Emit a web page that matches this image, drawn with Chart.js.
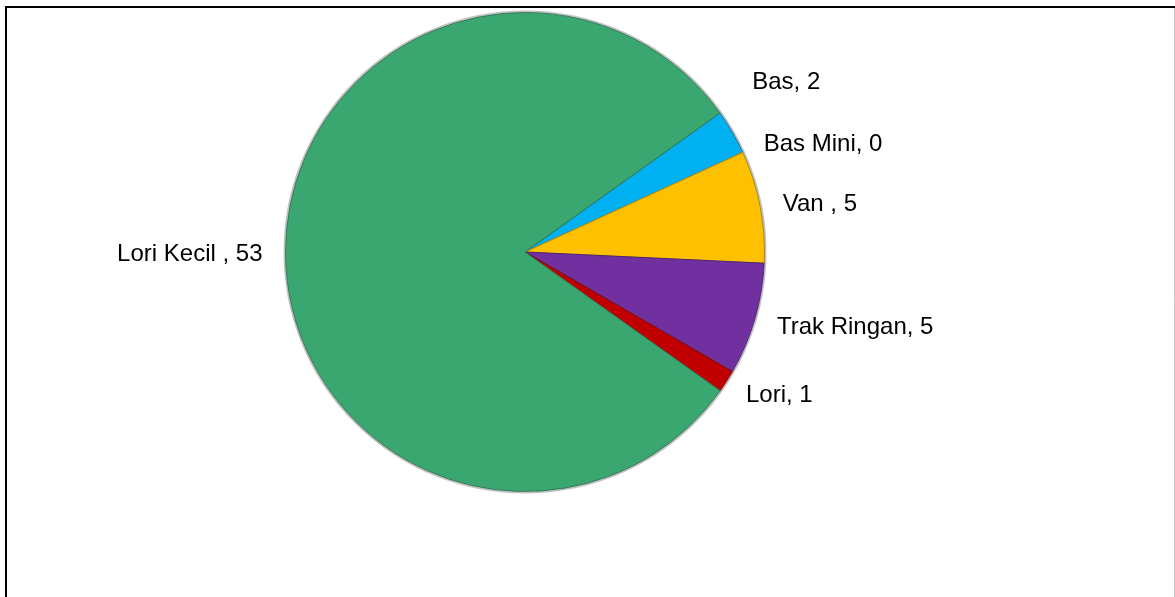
<!DOCTYPE html>
<html>
<head>
<meta charset="utf-8">
<script src="https://cdn.jsdelivr.net/npm/chart.js@4/dist/chart.umd.min.js"></script>
<style>
  html, body { margin: 0; padding: 0; background: #fff; }
  #wrap { width: 1175px; height: 597px; position: relative; }
</style>
</head>
<body>
<div id="wrap"><canvas id="pieChart" width="1175" height="597"></canvas></div>
<script>
// data, in drawing order (clockwise from the Bas slice)
const categories = ['Bas', 'Bas Mini', 'Van ', 'Trak Ringan', 'Lori', 'Lori Kecil '];
const counts = [2, 0, 5, 5, 1, 53];

const fillColors = ['#00B0F0', '#00B0F0', '#FFC000', '#7030A0', '#C00000', '#3AA670'];
const edgeColors = ['#1A6F93', '#1A6F93', '#B08A10', '#4E2474', '#7A0E0E', '#2F7A55'];

// frame around the chart like the spreadsheet export
const framePlugin = {
  id: 'frame',
  beforeDraw(chart) {
    const ctx = chart.ctx;
    ctx.save();
    ctx.fillStyle = '#fff';
    ctx.fillRect(0, 0, chart.width, chart.height);
    ctx.strokeStyle = '#000';
    ctx.lineWidth = 2;
    ctx.beginPath();
    ctx.moveTo(5, 7);
    ctx.lineTo(chart.width, 7);
    ctx.moveTo(6, 6);
    ctx.lineTo(6, chart.height);
    ctx.stroke();
    ctx.strokeStyle = '#c8c8c8';
    ctx.lineWidth = 1;
    ctx.beginPath();
    ctx.moveTo(1174.5, 8);
    ctx.lineTo(1174.5, chart.height);
    ctx.stroke();
    ctx.restore();
  }
};

// soft grey rim + outside labels "name, value"
const pieLabels = {
  id: 'pieLabels',
  afterDatasetsDraw(chart, args, opts) {
    const ctx = chart.ctx;
    const arcs = chart.getDatasetMeta(0).data;
    if (!arcs.length) return;
    const { x: cx, y: cy, outerRadius } = arcs[0].getProps(['x', 'y', 'outerRadius'], true);

    ctx.save();
    ctx.strokeStyle = 'rgba(120,120,120,0.45)';
    ctx.lineWidth = 2;
    ctx.beginPath();
    ctx.arc(cx, cy, outerRadius + 1, 0, Math.PI * 2);
    ctx.stroke();

    ctx.font = opts.font;
    ctx.fillStyle = '#000';
    ctx.textBaseline = 'alphabetic';
    arcs.forEach((arc, i) => {
      const p = arc.getProps(['startAngle', 'endAngle'], true);
      const mid = (p.startAngle + p.endAngle) / 2;
      const d = outerRadius + opts.gap;
      let x = cx + Math.cos(mid) * d;
      let y = cy + Math.sin(mid) * d;
      const nudge = opts.nudge[i] || 0;
      y += nudge;
      ctx.textAlign = Math.cos(mid) >= 0 ? 'left' : 'right';
      ctx.fillText(categories[i] + ', ' + counts[i], x, y + opts.capShift);
    });
    ctx.restore();
  }
};

new Chart(document.getElementById('pieChart'), {
  type: 'pie',
  data: {
    labels: categories,
    datasets: [{
      data: counts,
      backgroundColor: fillColors,
      borderColor: edgeColors,
      borderWidth: 1,
    }]
  },
  options: {
    responsive: false,
    animation: false,
    rotation: 54.5,
    layout: { padding: { left: 285, top: 12, right: 410, bottom: 105 } },
    plugins: {
      legend: { display: false },
      tooltip: { enabled: false },
      pieLabels: {
        font: '24px "Liberation Sans", Arial, sans-serif',
        gap: 23,
        capShift: 8.5,
        nudge: { 0: -40 }
      }
    }
  },
  plugins: [framePlugin, pieLabels]
});
</script>
</body>
</html>
